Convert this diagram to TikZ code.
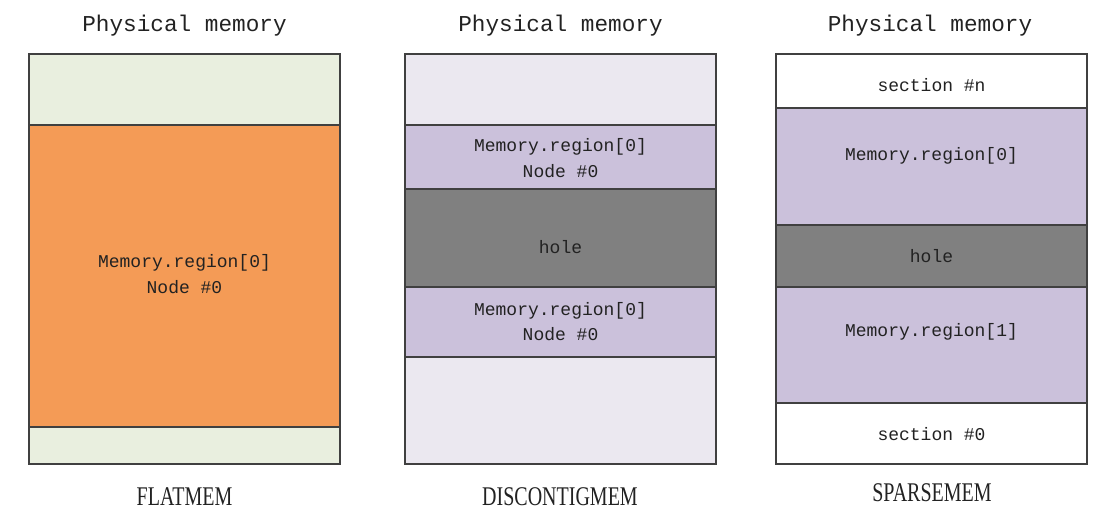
\documentclass[tikz,border=0pt]{standalone}
\usepackage{fontspec}
\setmainfont{Liberation Serif}
\setmonofont{Liberation Mono}
\definecolor{linegray}{HTML}{404040}
\definecolor{textgray}{HTML}{222222}
\definecolor{palegreen}{HTML}{E9EFDF}
\definecolor{memorange}{HTML}{F49B56}
\definecolor{palelav}{HTML}{EBE8F0}
\definecolor{lavender}{HTML}{CBC1DB}
\definecolor{holegray}{HTML}{808080}
\tikzset{
  band/.style={draw=linegray, line width=1.1pt, minimum width=311pt, anchor=north west, inner sep=0pt, outer sep=0pt},
  memtxt/.style={font=\ttfamily\fontsize{18}{22}\selectfont, text=textgray, anchor=base, inner sep=0pt},
  titletxt/.style={font=\ttfamily\fontsize{22.7}{26}\selectfont, text=textgray, anchor=base, inner sep=0pt},
  captxt/.style={font=\rmfamily\fontsize{20}{24}\selectfont, text=textgray, anchor=base, inner sep=0pt}
}
\begin{document}
\begin{tikzpicture}[x=1pt,y=-1pt]
\useasboundingbox (0,0) rectangle (1103,511);
% titles
\node[titletxt] (h1) at (184.5,32) {Physical memory};
\node[titletxt] (h2) at (560.5,32) {Physical memory};
\node[titletxt] (h3) at (930,32) {Physical memory};
% FLATMEM
\node[band, fill=palegreen, minimum height=71pt] (a1) at (29,54) {};
\node[band, fill=memorange, minimum height=302pt] (a2) at (29,125) {};
\node[band, fill=palegreen, minimum height=37pt] (a3) at (29,427) {};
\node[memtxt] (ta1) at (184.5,267.5) {Memory.region[0]};
\node[memtxt] (ta2) at (184.5,293.5) {Node \#0};
% DISCONTIGMEM
\node[band, fill=palelav, minimum height=71pt] (b1) at (405,54) {};
\node[band, fill=lavender, minimum height=64pt] (b2) at (405,125) {};
\node[band, fill=holegray, minimum height=98pt] (b3) at (405,189) {};
\node[band, fill=lavender, minimum height=70pt] (b4) at (405,287) {};
\node[band, fill=palelav, minimum height=107pt] (b5) at (405,357) {};
\node[memtxt] (tb1) at (560.5,151.5) {Memory.region[0]};
\node[memtxt] (tb2) at (560.5,177.5) {Node \#0};
\node[memtxt] (tb3) at (560.5,253.5) {hole};
\node[memtxt] (tb4) at (560.5,315) {Memory.region[0]};
\node[memtxt] (tb5) at (560.5,340.5) {Node \#0};
% SPARSEMEM
\node[band, fill=white, minimum height=54pt] (c1) at (776,54) {};
\node[band, fill=lavender, minimum height=117pt] (c2) at (776,108) {};
\node[band, fill=holegray, minimum height=62pt] (c3) at (776,225) {};
\node[band, fill=lavender, minimum height=116pt] (c4) at (776,287) {};
\node[band, fill=white, minimum height=61pt] (c5) at (776,403) {};
\draw[linegray, line width=2.2pt] (c3.north west) -- (c3.north east);
\node[memtxt] (tc1) at (931.5,91.5) {section \#n};
\node[memtxt] (tc2) at (931.5,160) {Memory.region[0]};
\node[memtxt] (tc3) at (931.5,262.5) {hole};
\node[memtxt] (tc4) at (931.5,336.5) {Memory.region[1]};
\node[memtxt] (tc5) at (931.5,440) {section \#0};
% captions
\node[captxt] (f1) at (184.5,505) {\scalebox{1}[1.35]{FLATMEM}};
\node[captxt] (f2) at (560,505) {\scalebox{1}[1.35]{DISCONTIGMEM}};
\node[captxt] (f3) at (932,501) {\scalebox{1}[1.35]{SPARSEMEM}};
\end{tikzpicture}
\end{document}
